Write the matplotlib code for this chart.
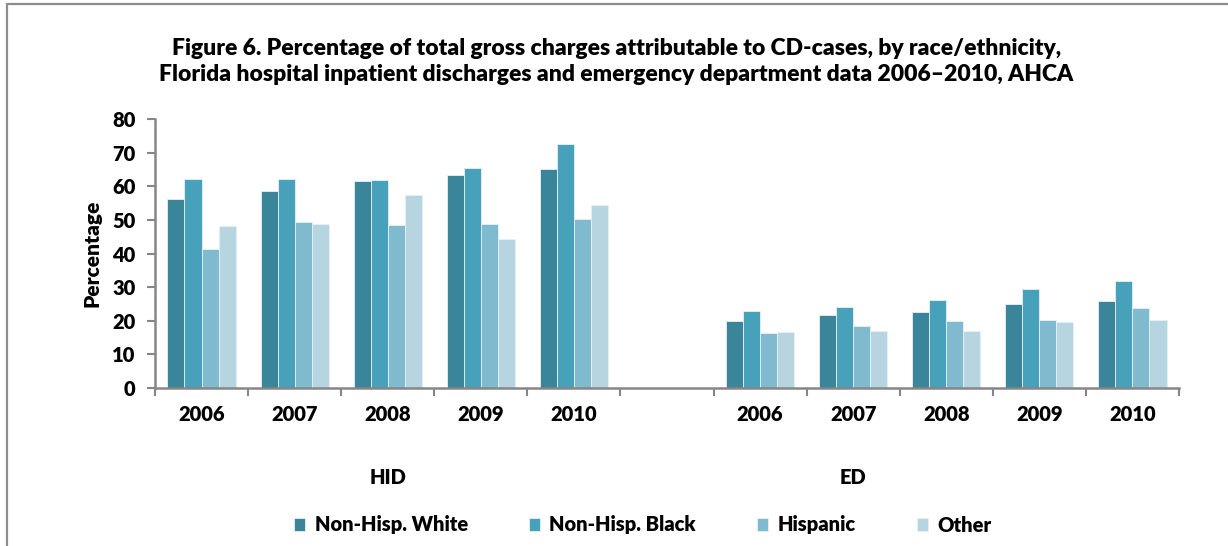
import matplotlib
matplotlib.use("Agg")
import matplotlib.pyplot as plt
from matplotlib.patches import Rectangle
import numpy as np

plt.rcParams['font.family'] = ['Lato', 'DejaVu Sans']
W = 'heavy'
plt.rcParams['font.weight'] = W

# Category slots: five HID years, an empty spacer, five ED years
years = ['2006', '2007', '2008', '2009', '2010']
slot_labels = years + [''] + years
groups = ['HID', 'ED']
series = ['Non-Hisp. White', 'Non-Hisp. Black', 'Hispanic', 'Other']

# Percentages per series, HID years then ED years
hid_white = [56.2, 58.7, 61.5, 63.4, 65.0]
hid_black = [62.1, 62.1, 61.9, 65.5, 72.7]
hid_hispanic = [41.3, 49.4, 48.5, 48.8, 50.4]
hid_other = [48.1, 48.9, 57.4, 44.4, 54.5]

ed_white = [19.9, 21.8, 22.6, 24.9, 25.9]
ed_black = [22.9, 24.2, 26.3, 29.5, 31.7]
ed_hispanic = [16.4, 18.5, 19.9, 20.2, 23.8]
ed_other = [16.6, 16.9, 17.0, 19.7, 20.2]

colors = ['#3A8599', '#48A1BA', '#7FBACF', '#B7D5E0']

fig = plt.figure(figsize=(12.28, 5.46), dpi=100)
ax = fig.add_axes([0.1262, 0.2894, 0.9601 - 0.1262, 0.782 - 0.2894])

hid_x = np.arange(5)
ed_x = np.arange(6, 11)
width = 0.183
all_vals = [(hid_white, ed_white), (hid_black, ed_black),
            (hid_hispanic, ed_hispanic), (hid_other, ed_other)]
handles = []
for i, ((hv, ev), c, name) in enumerate(zip(all_vals, colors, series)):
    off = (i - 1.5) * width
    b = ax.bar(hid_x + off, hv, width, color=c, edgecolor='#e8f1f4',
               linewidth=0.6, label=name)
    ax.bar(ed_x + off, ev, width, color=c, edgecolor='#e8f1f4', linewidth=0.6)
    handles.append(b)

ax.set_xlim(-0.5, 10.5)
ax.set_ylim(0, 80)
ax.set_yticks(np.arange(0, 81, 10))

# Tick marks at slot boundaries, year labels at slot centres
ax.set_xticks(np.arange(-0.5, 11, 1))
ax.set_xticklabels([])
ax.set_xticks(np.arange(11), minor=True)
ax.set_xticklabels(slot_labels, minor=True, fontweight=W)
ax.tick_params(axis='x', which='minor', length=0, pad=12, labelsize=14.5)
ax.tick_params(axis='x', which='major', length=6, width=1.5, color='#868686')
ax.tick_params(axis='y', length=6, width=1.5, color='#868686', labelsize=14.5, pad=8)
for t in ax.get_yticklabels():
    t.set_fontweight(W)

for s in ['top', 'right']:
    ax.spines[s].set_visible(False)
for s in ['left', 'bottom']:
    ax.spines[s].set_color('#868686')
    ax.spines[s].set_linewidth(1.8)

ax.set_ylabel('Percentage', fontsize=15, fontweight=W, labelpad=8)

# Group labels below the years
ax.text(2.0, -26.5, groups[0], ha='center', va='center', fontsize=14.5,
        fontweight=W, transform=ax.transData, clip_on=False)
ax.text(7.0, -26.5, groups[1], ha='center', va='center', fontsize=14.5,
        fontweight=W, transform=ax.transData, clip_on=False)

fig.text(0.502, 0.887,
         'Figure 6. Percentage of total gross charges attributable to CD-cases, by race/ethnicity,\n'
         'Florida hospital inpatient discharges and emergency department data 2006\u20132010, AHCA',
         ha='center', va='center', fontsize=16.5, fontweight=W, linespacing=1.32)

fig.legend(handles=handles, labels=series, loc='center', ncol=4,
           bbox_to_anchor=(0.5235, 1 - 525 / 546), frameon=False,
           prop={'size': 14.5, 'weight': W}, handlelength=0.55, handleheight=0.6,
           handletextpad=0.45, columnspacing=3.05)

# Outer chart frame
fig.patches.append(Rectangle((7 / 1228, -0.05), 1.2, 1 - 4 / 546 + 0.05,
                             transform=fig.transFigure, fill=False,
                             edgecolor='#8c8c8c', linewidth=1.6,
                             clip_on=False))

fig.savefig('out.png', dpi=100)
